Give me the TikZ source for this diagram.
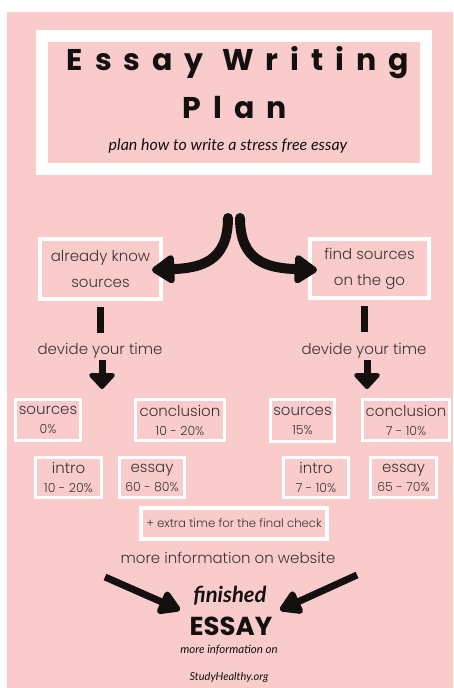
\documentclass[tikz,border=0pt]{standalone}
\usepackage{fontspec}
\setmainfont{Poppins Light}
\newfontfamily\titlefont{Poppins}[LetterSpace=40]
\newfontfamily\heavyfont{Poppins}
\newfontfamily\handfont{Lato}
\usetikzlibrary{arrows.meta}
\definecolor{bgpink}{RGB}{250,203,203}
\definecolor{inkgray}{RGB}{60,52,52}
\definecolor{inkblack}{RGB}{20,16,16}
\newcommand\pctsize{\fontsize{12.5}{14}\selectfont}

\begin{document}
\begin{tikzpicture}[x=1pt,y=-1pt,
    every node/.style={inner sep=0pt,align=center,text=inkgray},
    frame/.style={draw=white,line width=4pt,fill=bgpink},
    smallbox/.style={draw=white,line width=3pt,fill=bgpink,
        font=\fontsize{15}{22}\selectfont},
    bigarrow/.style={line width=10pt,line cap=round,draw=inkblack,
        -{Triangle[length=25pt,width=32pt,round]}},
    downarrow/.style={line width=7pt,draw=inkblack,
        -{Triangle[length=17pt,width=30pt,round]}},
    endarrow/.style={line width=7pt,draw=inkblack,
        -{Triangle[length=24pt,width=27pt,round]}}]
  % page and background
  \useasboundingbox (0,0) rectangle (453,688);
  \fill[white] (0,0) rectangle (453,688);
  \fill[bgpink] (7,12) rectangle (453,688);
  % title
  \node[draw=white,line width=12pt,fill=bgpink,
        minimum width=384pt,minimum height=133pt] (title) at (234,102.5) {};
  \node[anchor=base,text=inkblack,font=\titlefont\bfseries\fontsize{30}{32}\selectfont]
    (head) at (238,70) {Essay Writing};
  \node[anchor=base,text=inkblack,font=\titlefont\bfseries\fontsize{30}{32}\selectfont]
    (plan) at (235,118) {Plan};
  \node[anchor=base,text=inkblack,font=\handfont\itshape\fontsize{16}{18}\selectfont]
    (sub) at (228,150) {plan how to write a stress free essay};
  % the two ways
  \node[frame,font=\fontsize{15}{26}\selectfont,
        minimum width=121pt,minimum height=60pt] (know) at (100.5,269)
    {already know\\sources};
  \node[frame,font=\fontsize{15}{26}\selectfont,
        minimum width=119pt,minimum height=59pt] (find) at (369.5,268.5)
    {find sources\\on the go};
  \coordinate (splitL) at (228,218);
  \coordinate (splitR) at (240,218);
  \coordinate (tipL) at (152,270);
  \coordinate (tipR) at (317,270);
  \draw[bigarrow] (splitL) .. controls (228,262) and (200,268) .. (tipL);
  \draw[bigarrow] (splitR) .. controls (240,262) and (268,268) .. (tipR);
  % devide your time
  \draw[line width=7pt,draw=inkblack] (know.south) ++(0,6) coordinate (barL) -- ++(0,26);
  \draw[line width=7pt,draw=inkblack] (find.south) ++(-5,6) coordinate (barR) -- ++(0,26);
  \node[anchor=base,font=\fontsize{15}{18}\selectfont] (timeL) at (100,354) {devide your time};
  \node[anchor=base,font=\fontsize{15}{18}\selectfont] (timeR) at (364,354) {devide your time};
  \coordinate (downL) at (102,389);
  \coordinate (downR) at (367,389);
  \draw[downarrow] (timeL.south -| downL) ++(0,2) -- (downL);
  \draw[downarrow] (timeR.south -| downR) ++(0,2) -- (downR);
  % shares, left
  \node[smallbox,minimum width=65pt,minimum height=41pt] (srcA) at (48,420)
    {sources\\[-3pt]{\pctsize 0\%}};
  \node[smallbox,minimum width=89pt,minimum height=41pt] (conA) at (180,420)
    {conclusion\\[-3pt]{\pctsize 10 - 20\%}};
  \node[smallbox,minimum width=66pt,minimum height=40pt] (introA) at (68.5,477.5)
    {intro\\[-3pt]{\pctsize 10 - 20\%}};
  \node[smallbox,minimum width=65pt,minimum height=40pt] (essA) at (152,477.5)
    {essay\\[-3pt]{\pctsize 60 - 80\%}};
  % shares, right
  \node[smallbox,minimum width=64pt,minimum height=42pt] (srcB) at (302.5,420.5)
    {sources\\[-3pt]{\pctsize 15\%}};
  \node[smallbox,minimum width=87pt,minimum height=41pt] (conB) at (406,420)
    {conclusion\\[-3pt]{\pctsize 7 - 10\%}};
  \node[smallbox,minimum width=65pt,minimum height=40pt] (introB) at (316,477.5)
    {intro\\[-3pt]{\pctsize 7 - 10\%}};
  \node[smallbox,minimum width=66pt,minimum height=40pt] (essB) at (403.5,477.5)
    {essay\\[-3pt]{\pctsize 65 - 70\%}};
  \node[frame,minimum width=186pt,minimum height=31pt,font=\fontsize{11.7}{13}\selectfont]
    (check) at (234,523.5) {+ extra time for the final check};
  % finish
  \node[anchor=base,font=\fontsize{15}{18}\selectfont] (web) at (228,563)
    {more information on website};
  \node[anchor=base,text=inkblack,font=\handfont\bfseries\itshape\fontsize{22}{24}\selectfont]
    (done) at (230,602) {finished};
  \node[anchor=base,text=inkblack,font=\heavyfont\bfseries\fontsize{26}{28}\selectfont]
    (essay) at (231,635) {ESSAY};
  \coordinate (fromL) at (105,577);
  \coordinate (fromR) at (357,575);
  \draw[endarrow] (fromL) -- (180,610) coordinate (toL);
  \draw[endarrow] (fromR) -- (280,610) coordinate (toR);
  \node[anchor=base,text=inkblack,font=\handfont\itshape\fontsize{11.5}{13}\selectfont]
    (more) at (229,653) {more information on};
  \node[anchor=base,text=inkblack,font=\handfont\itshape\fontsize{11}{13}\selectfont]
    (site) at (229,680) {StudyHealthy.org};
\end{tikzpicture}
\end{document}
